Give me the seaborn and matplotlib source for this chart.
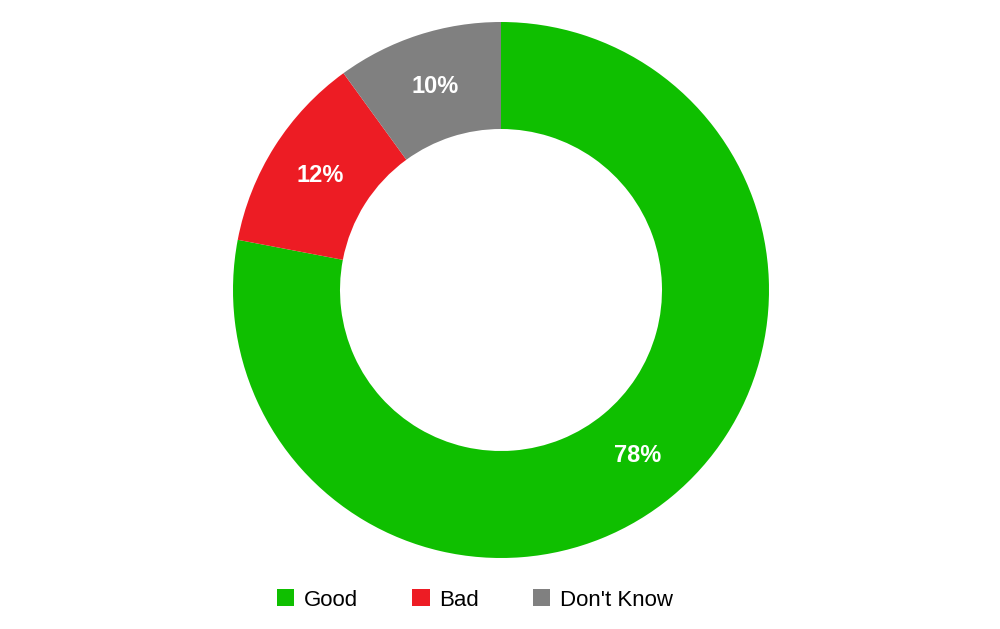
import matplotlib
matplotlib.use('Agg')
import matplotlib.pyplot as plt
import seaborn as sns
from matplotlib.patches import Patch

# data
labels = ['Good', 'Bad', "Don't Know"]
values = [78, 12, 10]
colors = ['#0fbf00', '#ed1c24', '#808080']

sns.set_theme(style='white')
plt.rcParams['font.family'] = ['Liberation Sans', 'DejaVu Sans']

fig = plt.figure(figsize=(10, 6.29), dpi=100)
ax = fig.add_axes([0, 0, 1, 1])
ax.set_xlim(0, 1000)
ax.set_ylim(0, 629)
ax.set_aspect('equal')
ax.axis('off')

wedges, texts, autotexts = ax.pie(values, colors=sns.color_palette(colors),
                                  startangle=90, counterclock=False,
                                  center=(501, 339), radius=268,
                                  wedgeprops=dict(width=107, linewidth=0),
                                  autopct='%d%%', pctdistance=0.8,
                                  textprops=dict(color='white', fontsize=17, fontweight='bold'))
ax.set_xlim(0, 1000)
ax.set_ylim(0, 629)

handles = [Patch(facecolor=c, edgecolor='none', label=l) for l, c in zip(labels, colors)]
leg = fig.legend(handles=handles, loc='center', bbox_to_anchor=(0.475, 1 - 600 / 629), ncol=3,
                 frameon=False, fontsize=16, handlelength=0.8, handleheight=0.8,
                 handletextpad=0.45, columnspacing=2.4)
for t in leg.get_texts():
    t.set_color('black')

fig.savefig('out.png', dpi=100)
